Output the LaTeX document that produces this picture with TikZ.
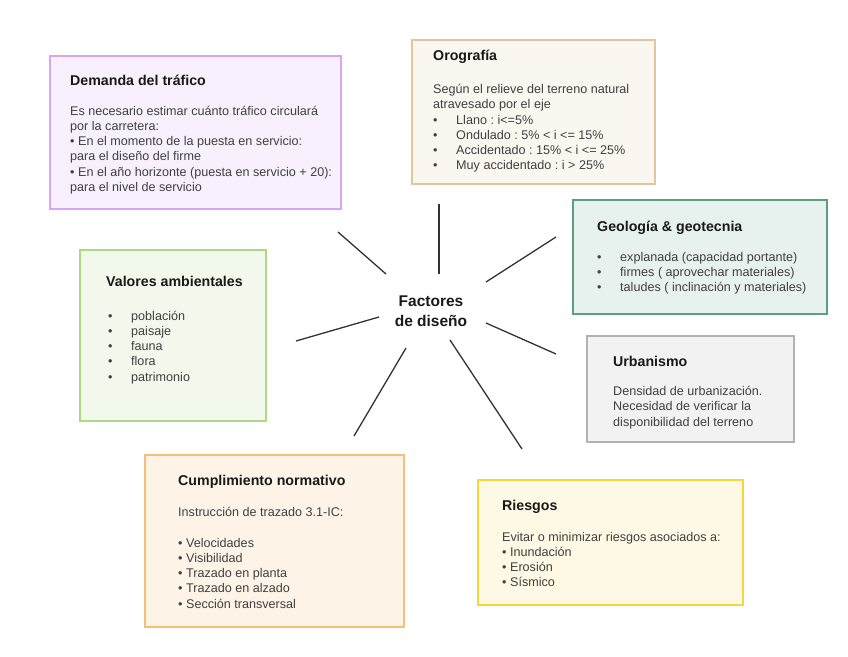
\documentclass[tikz,border=0pt]{standalone}
\usepackage{fontspec}
\setmainfont{Liberation Sans}
\usepackage{xcolor}
\usepackage{tikz}
\usetikzlibrary{positioning}
\frenchspacing
% --- box colours ------------------------------------------------------------
\definecolor{demline}{RGB}{214,166,245}  \definecolor{demfill}{RGB}{248,240,253}
\definecolor{oroline}{RGB}{229,196,158}  \definecolor{orofill}{RGB}{250,246,240}
\definecolor{geoline}{RGB}{92,160,130}   \definecolor{geofill}{RGB}{231,241,237}
\definecolor{valline}{RGB}{170,218,130}  \definecolor{valfill}{RGB}{242,248,235}
\definecolor{urbline}{RGB}{178,178,178}  \definecolor{urbfill}{RGB}{242,242,242}
\definecolor{cumline}{RGB}{247,190,120}  \definecolor{cumfill}{RGB}{253,244,231}
\definecolor{rieline}{RGB}{245,215,60}   \definecolor{riefill}{RGB}{253,249,228}
\newcommand{\itembullet}{\makebox[23pt][l]{\textbullet}}
\tikzset{
  % --- factor boxes ----------------------------------------------------------
  factorbox/.style={rectangle,line width=1.8pt,inner sep=0pt,anchor=north west},
  dembox/.style={factorbox,draw=demline,fill=demfill},
  orobox/.style={factorbox,draw=oroline,fill=orofill},
  geobox/.style={factorbox,draw=geoline,fill=geofill},
  valbox/.style={factorbox,draw=valline,fill=valfill},
  urbbox/.style={factorbox,draw=urbline,fill=urbfill},
  cumbox/.style={factorbox,draw=cumline,fill=cumfill},
  riebox/.style={factorbox,draw=rieline,fill=riefill},
  % --- texts -----------------------------------------------------------------
  boxtitle/.style={inner sep=0pt,align=left,text=black!90,
                   font=\bfseries\fontsize{14.2}{17}\selectfont},
  boxbody/.style={inner sep=0pt,align=left,text=black!75,
                  font=\fontsize{12.6}{15.2}\selectfont},
  hub/.style={inner sep=0pt,align=center,text=black!90,
              font=\bfseries\fontsize{15.5}{20}\selectfont},
  % --- spokes ----------------------------------------------------------------
  spoke/.style={draw=black!80,line width=1.3pt},
}
\begin{document}
\begin{tikzpicture}[x=1pt, y=-1pt]
  \useasboundingbox (0,0) rectangle (848,656);
  % --- the seven factor boxes --------------------------------------------
  \node[dembox,minimum width=291pt,minimum height=153pt] (dem) at (49,55)  {};
  \node[orobox,minimum width=243pt,minimum height=144pt] (oro) at (411,39) {};
  \node[geobox,minimum width=254pt,minimum height=114pt] (geo) at (572,199) {};
  \node[valbox,minimum width=186pt,minimum height=171pt] (val) at (79,249) {};
  \node[urbbox,minimum width=207pt,minimum height=106pt] (urb) at (586,335) {};
  \node[cumbox,minimum width=259pt,minimum height=172pt] (cum) at (144,454) {};
  \node[riebox,minimum width=265pt,minimum height=125pt] (rie) at (477,479) {};

  % --- titles --------------------------------------------------------------
  \node[boxtitle,below right=18.1pt and 21pt of dem.north west] (demt) {\strut Demanda del tráfico};
  \node[boxtitle,below right=9.6pt and 22pt of oro.north west]  (orot) {\strut Orografía};
  \node[boxtitle,below right=20pt and 25pt of geo.north west]   (geot) {\strut Geología \& geotecnia};
  \node[boxtitle,below right=25.6pt and 27pt of val.north west] (valt) {\strut Valores ambientales};
  \node[boxtitle,below right=19.1pt and 27pt of urb.north west] (urbt) {\strut Urbanismo};
  \node[boxtitle,below right=19.1pt and 34pt of cum.north west] (cumt) {\strut Cumplimiento normativo};
  \node[boxtitle,below right=19.1pt and 25pt of rie.north west] (riet) {\strut Riesgos};

  % --- bodies --------------------------------------------------------------
  \node[boxbody,below right=49.4pt and 21pt of dem.north west] (demb)
    {\strut Es necesario estimar cuánto tráfico circulará\\
     por la carretera:\\
     \textbullet\ En el momento de la puesta en servicio:\\
     para el diseño del firme\\
     \textbullet\ En el año horizonte (puesta en servicio + 20):\\
     para el nivel de servicio};
  \node[boxbody,below right=43.9pt and 22pt of oro.north west] (orob)
    {\strut Según el relieve del terreno natural\\
     atravesado por el eje\\
     \itembullet Llano : i<=5\%\\
     \itembullet Ondulado : 5\% < i <= 15\%\\
     \itembullet Accidentado : 15\% < i <= 25\%\\
     \itembullet Muy accidentado : i > 25\%};
  \node[boxbody,below right=51.4pt and 25pt of geo.north west] (geob)
    {\strut\itembullet explanada (capacidad portante)\\
     \itembullet firmes ( aprovechar materiales)\\
     \itembullet taludes ( inclinación y materiales)};
  \node[boxbody,below right=60.4pt and 29pt of val.north west] (valb)
    {\strut\itembullet población\\
     \itembullet paisaje\\
     \itembullet fauna\\
     \itembullet flora\\
     \itembullet patrimonio};
  \node[boxbody,below right=49.9pt and 27pt of urb.north west] (urbb)
    {\strut Densidad de urbanización.\\
     Necesidad de verificar la\\
     disponibilidad del terreno};
  \node[boxbody,below right=52pt and 34pt of cum.north west] (cumb)
    {\strut Instrucción de trazado 3.1-IC:\\
     \mbox{}\\
     \textbullet\ Velocidades\\
     \textbullet\ Visibilidad\\
     \textbullet\ Trazado en planta\\
     \textbullet\ Trazado en alzado\\
     \textbullet\ Sección transversal};
  \node[boxbody,below right=51.4pt and 25pt of rie.north west] (rieb)
    {\strut Evitar o minimizar riesgos asociados a:\\
     \textbullet\ Inundación\\
     \textbullet\ Erosión\\
     \textbullet\ Sísmico};

  % --- the hub and its spokes ------------------------------------------------
  \node[hub,anchor=north] (fac) at (431,292.7) {\strut Factores\\de diseño};

  \coordinate (dem-a) at (386,274); \coordinate (dem-b) at (338,232);
  \coordinate (oro-a) at (439,274); \coordinate (oro-b) at (439,204);
  \coordinate (geo-a) at (486,282); \coordinate (geo-b) at (556,237);
  \coordinate (val-a) at (379,317); \coordinate (val-b) at (296,341);
  \coordinate (urb-a) at (486,323); \coordinate (urb-b) at (556,354);
  \coordinate (cum-a) at (406,348); \coordinate (cum-b) at (354,436);
  \coordinate (rie-a) at (450,340); \coordinate (rie-b) at (522,449);
  \foreach \f in {dem,oro,geo,val,urb,cum,rie}
    \draw[spoke] (\f-a) -- (\f-b);
\end{tikzpicture}
\end{document}
